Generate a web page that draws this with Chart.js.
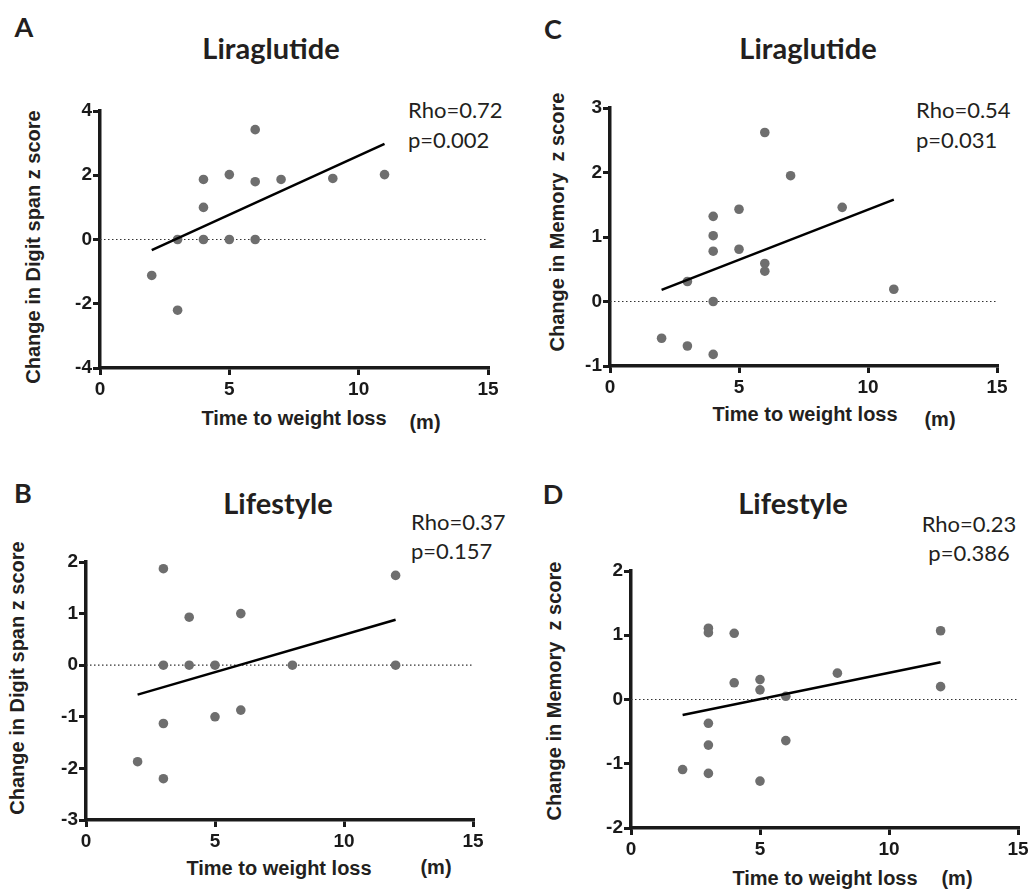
<!DOCTYPE html>
<html><head><meta charset="utf-8">
<script src="https://cdn.jsdelivr.net/npm/chart.js@4.4.1/dist/chart.umd.min.js"></script>
<style>
body{margin:0;background:#fff;}
#wrap{position:relative;width:1030px;height:890px;overflow:hidden;background:#fff;font-family:'Liberation Sans',Arial,sans-serif;color:#231f20;}
canvas{position:absolute;}
.t{position:absolute;white-space:nowrap;line-height:1;}
.letter{font-family:Lato,'Open Sans',sans-serif;font-weight:700;font-size:27px;transform:translate(-50%,-50%);}
.title{font-family:Lato,sans-serif;font-weight:700;font-size:29px;transform:translate(-50%,-50%);}
.stat{font-family:Lato,sans-serif;font-size:22px;transform:translateY(-50%);}
.statc{font-family:Lato,sans-serif;font-size:22px;transform:translate(-50%,-50%);}
.ytitle{font-weight:700;font-size:20px;transform:translate(-50%,-50%) rotate(-90deg);}
.xtitle{font-weight:700;font-size:20px;transform:translate(-50%,-50%);}
</style></head>
<body><div id="wrap">
<div class="t letter" style="left:24px;top:26px">A</div>
<div class="t letter" style="left:553px;top:28px">C</div>
<div class="t letter" style="left:23px;top:492px">B</div>
<div class="t letter" style="left:553px;top:493px">D</div>
<div class="t title" style="left:271px;top:47px">Liraglutide</div>
<div class="t title" style="left:808px;top:47px">Liraglutide</div>
<div class="t title" style="left:278px;top:502px">Lifestyle</div>
<div class="t title" style="left:793px;top:502px">Lifestyle</div>
<div class="t stat" style="left:408px;top:110px">Rho=0.72</div>
<div class="t stat" style="left:408px;top:140px">p=0.002</div>
<div class="t stat" style="left:916px;top:110px">Rho=0.54</div>
<div class="t stat" style="left:916px;top:140px">p=0.031</div>
<div class="t stat" style="left:411px;top:522px">Rho=0.37</div>
<div class="t stat" style="left:411px;top:551px">p=0.157</div>
<div class="t statc" style="left:969px;top:524px">Rho=0.23</div>
<div class="t statc" style="left:969px;top:553px">p=0.386</div>
<div class="t ytitle" style="left:33px;top:247px">Change in Digit span z score</div>
<div class="t ytitle" style="left:17px;top:678px">Change in Digit span z score</div>
<div class="t ytitle" style="left:557px;top:222px">Change in Memory&nbsp; z score</div>
<div class="t ytitle" style="left:554px;top:691px">Change in Memory&nbsp; z score</div>
<div class="t xtitle" style="left:294px;top:418px">Time to weight loss</div>
<div class="t xtitle" style="left:425px;top:422px">(m)</div>
<div class="t xtitle" style="left:805px;top:414px">Time to weight loss</div>
<div class="t xtitle" style="left:940px;top:419px">(m)</div>
<div class="t xtitle" style="left:279px;top:868px">Time to weight loss</div>
<div class="t xtitle" style="left:436px;top:867px">(m)</div>
<div class="t xtitle" style="left:825px;top:878px">Time to weight loss</div>
<div class="t xtitle" style="left:957px;top:878px">(m)</div>
</div>
<script>
// Panel A: Liraglutide, Digit span
const aX = [2, 3, 3, 4, 4, 4, 5, 5, 6, 6, 6, 7, 9, 11];
const aY = [-1.12, 0, -2.2, 0, 1.0, 1.87, 0, 2.02, 0, 1.8, 3.42, 1.87, 1.9, 2.02];
const aFitX = [2, 11];
const aFitY = [-0.33, 2.98];
// Panel B: Lifestyle, Digit span
const bX = [2, 3, 3, 3, 3, 4, 4, 5, 5, 6, 6, 8, 12, 12];
const bY = [-1.87, -2.2, -1.13, 0, 1.87, 0, 0.93, 0, -1.0, -0.87, 1.0, 0, 0, 1.74];
const bFitX = [2, 12];
const bFitY = [-0.57, 0.88];
// Panel C: Liraglutide, Memory
const cX = [2, 3, 3, 4, 4, 4, 4, 4, 5, 5, 6, 6, 6, 7, 9, 11];
const cY = [-0.57, -0.69, 0.31, -0.82, 0, 0.78, 1.02, 1.32, 0.81, 1.43, 0.47, 0.59, 2.62, 1.95, 1.46, 0.19];
const cFitX = [2, 11];
const cFitY = [0.18, 1.58];
// Panel D: Lifestyle, Memory
const dX = [2, 3, 3, 3, 3, 3, 4, 4, 5, 5, 5, 6, 6, 8, 12, 12];
const dY = [-1.09, -1.15, -0.71, -0.37, 1.04, 1.11, 0.26, 1.03, -1.27, 0.15, 0.31, -0.64, 0.05, 0.41, 0.2, 1.07];
const dFitX = [2, 12];
const dFitY = [-0.24, 0.58];
// Axes
const xRange = [0, 15];
const xStep = 5;
const aYRange = [-4, 4], aYStep = 2;
const bYRange = [-3, 2], bYStep = 1;
const cYRange = [-1, 3], cYStep = 1;
const dYRange = [-2, 2], dYStep = 1;

const INK = '#1a1a1a';
const TICKFONT = {family: "'Liberation Sans', Arial, Helvetica, sans-serif", size: 19, weight: 'bold'};
const wrap = document.getElementById('wrap');

function panel(L, T, R, B, xs, ys, fx, fy, yr, ys2) {
  const padL = 50, padT = 15, padR = 14, padB = 40;
  const w = (R - L) + padL + padR, h = (B - T) + padT + padB;
  const c = document.createElement('canvas');
  c.width = w; c.height = h;
  c.style.left = (L - padL) + 'px'; c.style.top = (T - padT) + 'px';
  c.style.width = w + 'px'; c.style.height = h + 'px';
  wrap.appendChild(c);
  const pts = (X, Y) => X.map((x, i) => ({x: x, y: Y[i]}));
  const axisGrid = {display: true, drawOnChartArea: false, drawTicks: true, tickLength: 7, tickWidth: 3, lineWidth: 3, tickColor: INK, color: INK};
  new Chart(c, {
    type: 'scatter',
    data: {datasets: [
      {data: pts(fx, fy), showLine: true, borderColor: '#000', borderWidth: 2.5, pointRadius: 0, fill: false},
      {data: pts(xs, ys), backgroundColor: '#6e6e6e', borderWidth: 0, pointRadius: 4.8, pointHoverRadius: 4.8},
      {data: pts(xRange, [0, 0]), showLine: true, borderColor: '#333', borderWidth: 1.2, borderDash: [1.5, 2.5], pointRadius: 0, fill: false}
    ]},
    options: {
      responsive: false, animation: false, devicePixelRatio: 1,
      layout: {padding: {left: 0, top: padT, right: padR, bottom: 0}},
      plugins: {legend: {display: false}, tooltip: {enabled: false}},
      scales: {
        x: {type: 'linear', min: xRange[0], max: xRange[1],
            ticks: {stepSize: xStep, color: INK, font: TICKFONT, padding: 3, maxRotation: 0},
            grid: axisGrid,
            border: {display: true, color: INK, width: 3.5},
            afterFit: s => { s.height = padB; }},
        y: {type: 'linear', min: yr[0], max: yr[1],
            ticks: {stepSize: ys2, color: INK, font: TICKFONT, padding: 1},
            grid: axisGrid,
            border: {display: true, color: INK, width: 3.5},
            afterFit: s => { s.width = padL; }}
      }
    }
  });
}
panel(100, 111, 488, 368, aX, aY, aFitX, aFitY, aYRange, aYStep);
panel(86, 562, 473, 820, bX, bY, bFitX, bFitY, bYRange, bYStep);
panel(610, 108, 997, 366, cX, cY, cFitX, cFitY, cYRange, cYStep);
panel(631, 571, 1018, 828, dX, dY, dFitX, dFitY, dYRange, dYStep);
</script>
</body></html>
